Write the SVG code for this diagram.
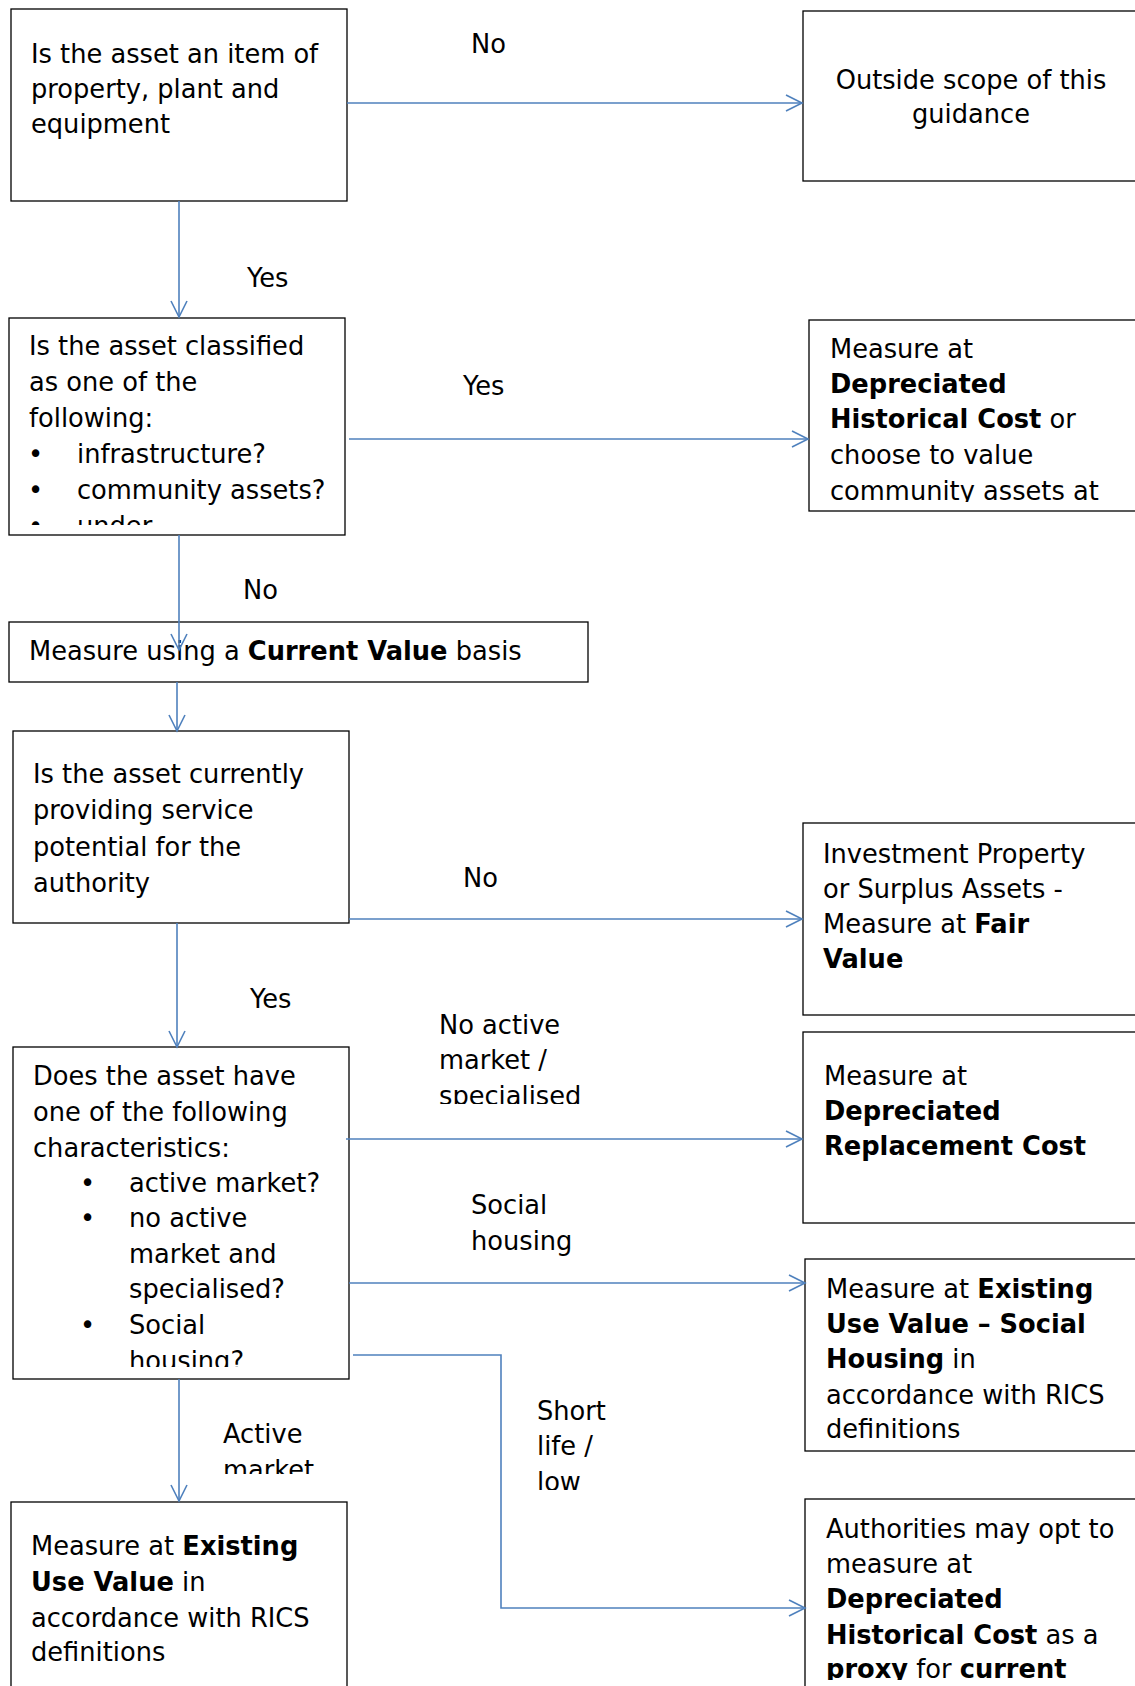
<svg xmlns="http://www.w3.org/2000/svg" width="1135" height="1686" viewBox="0 0 1135 1686">
<style>
.box{fill:#fff;stroke:#000;stroke-width:1.3}
text{font-family:"DejaVu Sans","Liberation Sans",sans-serif;font-size:25.7px;fill:#000}
.b{font-weight:bold}
.conn{fill:none;stroke:#4f81bd;stroke-width:1.6}
</style>
<defs>
<marker id="arr" markerUnits="userSpaceOnUse" markerWidth="20" markerHeight="20" refX="16" refY="8" orient="auto" overflow="visible">
<path d="M0,0 L16,8 L0,16" fill="none" stroke="#4f81bd" stroke-width="1.6"/>
</marker>
<clipPath id="c3"><rect x="0" y="318" width="345" height="207"/></clipPath>
<clipPath id="c4"><rect x="810" y="320" width="330" height="182"/></clipPath>
<clipPath id="c7"><rect x="14" y="1047" width="335" height="320"/></clipPath>
<clipPath id="c10"><rect x="806" y="1500" width="330" height="180"/></clipPath>
<clipPath id="lNoAct"><rect x="420" y="1000" width="200" height="104"/></clipPath>
<clipPath id="lAct"><rect x="200" y="1400" width="150" height="74"/></clipPath>
<clipPath id="lShort"><rect x="520" y="1380" width="120" height="110"/></clipPath>
</defs>

<g id="labels">
<text x="471" y="53">No</text>
<text x="247" y="287">Yes</text>
<text x="463" y="395">Yes</text>
<text x="243" y="599">No</text>
<text x="463" y="887">No</text>
<text x="250" y="1008">Yes</text>
<g clip-path="url(#lNoAct)">
<text x="439" y="1034">No active</text>
<text x="439" y="1069">market /</text>
<text x="439" y="1105">specialised</text>
</g>
<text x="471" y="1214">Social</text>
<text x="471" y="1250">housing</text>
<g clip-path="url(#lShort)">
<text x="537" y="1420">Short</text>
<text x="537" y="1455">life /</text>
<text x="537" y="1491">low</text>
</g>
<g clip-path="url(#lAct)">
<text x="223" y="1443">Active</text>
<text x="223" y="1479">market</text>
</g>
</g>

<g id="n1">
<rect class="box" x="11" y="9" width="336" height="192"/>
<text x="31" y="63">Is the asset an item of</text>
<text x="31" y="98">property, plant and</text>
<text x="31" y="133">equipment</text>
</g>

<g id="n2">
<rect class="box" x="803" y="11" width="340" height="170"/>
<text x="971" y="89" text-anchor="middle">Outside scope of this</text>
<text x="971" y="123" text-anchor="middle">guidance</text>
</g>

<g id="n3">
<rect class="box" x="9" y="318" width="336" height="217"/>
<g clip-path="url(#c3)">
<text x="29" y="355">Is the asset classified</text>
<text x="29" y="391">as one of the</text>
<text x="29" y="427">following:</text>
<text x="28" y="463">•</text><text x="77" y="463">infrastructure?</text>
<text x="28" y="499">•</text><text x="77" y="499">community assets?</text>
<text x="28" y="535">•</text><text x="77" y="535">under</text>
</g>
</g>

<g id="n4">
<rect class="box" x="809" y="320" width="335" height="191"/>
<g clip-path="url(#c4)">
<text x="830" y="358">Measure at</text>
<text x="830" y="393" class="b">Depreciated</text>
<text x="830" y="428"><tspan class="b">Historical Cost</tspan> or</text>
<text x="830" y="464">choose to value</text>
<text x="830" y="500">community assets at</text>
</g>
</g>

<g id="n5">
<rect class="box" x="9" y="622" width="579" height="60"/>
<text x="29" y="660">Measure using a <tspan class="b">Current Value</tspan> basis</text>
</g>

<g id="n6">
<rect class="box" x="13" y="731" width="336" height="192"/>
<text x="33" y="783">Is the asset currently</text>
<text x="33" y="819">providing service</text>
<text x="33" y="856">potential for the</text>
<text x="33" y="892">authority</text>
</g>

<g id="n7">
<rect class="box" x="803" y="823" width="340" height="192"/>
<text x="823" y="863">Investment Property</text>
<text x="823" y="898">or Surplus Assets -</text>
<text x="823" y="933">Measure at <tspan class="b">Fair</tspan></text>
<text x="823" y="968" class="b">Value</text>
</g>

<g id="n8">
<rect class="box" x="13" y="1047" width="336" height="332"/>
<g clip-path="url(#c7)">
<text x="33" y="1085">Does the asset have</text>
<text x="33" y="1121">one of the following</text>
<text x="33" y="1157">characteristics:</text>
<text x="80" y="1192">•</text><text x="129" y="1192">active market?</text>
<text x="80" y="1227">•</text><text x="129" y="1227">no active</text>
<text x="129" y="1263">market and</text>
<text x="129" y="1298">specialised?</text>
<text x="80" y="1334">•</text><text x="129" y="1334">Social</text>
<text x="129" y="1370">housing?</text>
</g>
</g>

<g id="n9">
<rect class="box" x="803" y="1032" width="340" height="191"/>
<text x="824" y="1085">Measure at</text>
<text x="824" y="1120" class="b">Depreciated</text>
<text x="824" y="1155" class="b">Replacement Cost</text>
</g>

<g id="n10">
<rect class="box" x="805" y="1259" width="340" height="192"/>
<text x="826" y="1298">Measure at <tspan class="b">Existing</tspan></text>
<text x="826" y="1333" class="b">Use Value – Social</text>
<text x="826" y="1368"><tspan class="b">Housing</tspan> in</text>
<text x="826" y="1404">accordance with RICS</text>
<text x="826" y="1438">definitions</text>
</g>

<g id="n11">
<rect class="box" x="805" y="1499" width="340" height="200"/>
<g clip-path="url(#c10)">
<text x="826" y="1538">Authorities may opt to</text>
<text x="826" y="1573">measure at</text>
<text x="826" y="1608" class="b">Depreciated</text>
<text x="826" y="1644"><tspan class="b">Historical Cost</tspan> as a</text>
<text x="826" y="1678"><tspan class="b">proxy</tspan> for <tspan class="b">current</tspan></text>
</g>
</g>

<g id="n12">
<rect class="box" x="11" y="1502" width="336" height="200"/>
<text x="31" y="1555">Measure at <tspan class="b">Existing</tspan></text>
<text x="31" y="1591"><tspan class="b">Use Value</tspan> in</text>
<text x="31" y="1627">accordance with RICS</text>
<text x="31" y="1661">definitions</text>
</g>

<g id="connectors">
<path class="conn" d="M347,103 H802" marker-end="url(#arr)"/>
<path class="conn" d="M179,201 V317" marker-end="url(#arr)"/>
<path class="conn" d="M349,439 H808" marker-end="url(#arr)"/>
<path class="conn" d="M179,535 V650" marker-end="url(#arr)"/>
<path class="conn" d="M177,682 V731" marker-end="url(#arr)"/>
<path class="conn" d="M349,919 H802" marker-end="url(#arr)"/>
<path class="conn" d="M177,923 V1047" marker-end="url(#arr)"/>
<path class="conn" d="M346,1139 H802" marker-end="url(#arr)"/>
<path class="conn" d="M349,1283 H805" marker-end="url(#arr)"/>
<path class="conn" d="M353,1355 H501 V1608 H805" marker-end="url(#arr)"/>
<path class="conn" d="M179,1379 V1501" marker-end="url(#arr)"/>
</g>
</svg>
